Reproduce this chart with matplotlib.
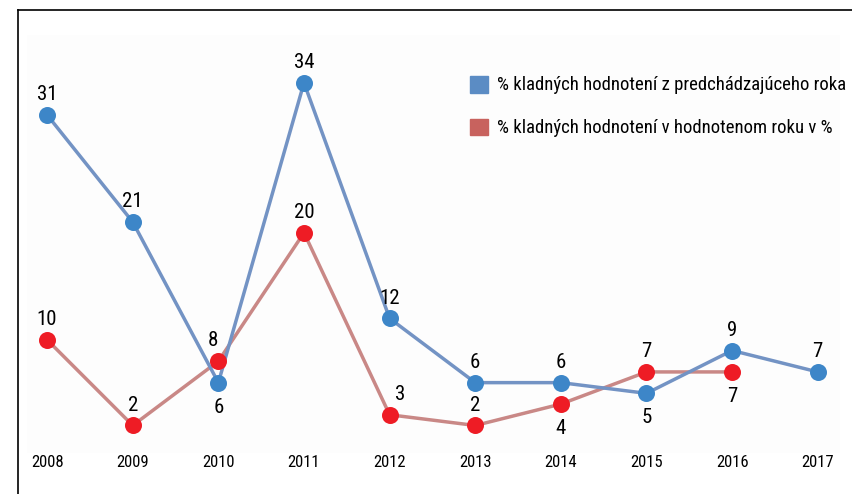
import matplotlib.pyplot as plt
from matplotlib.patches import Rectangle

# data
years = [2008, 2009, 2010, 2011, 2012, 2013, 2014, 2015, 2016, 2017]
prev_year = [31, 21, 6, 34, 12, 6, 6, 5, 9, 7]
rated_year = [10, 2, 8, 20, 3, 2, 4, 7, 7]

# label placement: +1 above, -1 below
prev_pos = [1, 1, -1, 1, 1, 1, 1, -1, 1, 1]
rated_pos = [1, 1, 1, 1, 1, 1, -1, 1, -1]

legend_labels = ["% kladných hodnotení z predchádzajúceho roka",
                 "% kladných hodnotení v hodnotenom roku v %"]

plt.rcParams['font.family'] = ['Roboto Condensed', 'DejaVu Sans']

fig = plt.figure(figsize=(8.52, 4.94), dpi=100)
ax = fig.add_axes([18 / 852, 0, 834 / 852, 484 / 494])

blue_line, blue_dot = "#7393c4", "#3d86c8"
red_line, red_dot = "#c98886", "#ee1c25"

# very light plot-area background
ax.axhspan(-0.6, 38.5, xmin=9 / 834, xmax=822 / 834, color="#fdfdfd", zorder=0, lw=0)

ax.plot(years[:len(rated_year)], rated_year, color=red_line, lw=2.5, zorder=2)
ax.plot(years, prev_year, color=blue_line, lw=2.5, zorder=2)
ax.scatter(years[:len(rated_year)], rated_year, s=150, color=red_dot, zorder=3, lw=0)
ax.scatter(years, prev_year, s=150, color=blue_dot, zorder=4, lw=0)


def offset(p):
    return 1.9 if p > 0 else -2.3


for x, v, p in zip(years, prev_year, prev_pos):
    ax.text(x, v + offset(p), str(v), ha='center', va='center', fontsize=15, zorder=6)
for x, v, p in zip(years, rated_year, rated_pos):
    dx = 0.12 if x == 2012 else 0
    dx = -0.06 if x == 2010 else dx
    ax.text(x + dx, v + offset(p), str(v), ha='center', va='center', fontsize=15, zorder=6)

for x in years:
    ax.text(x, -1.45, str(x), ha='center', va='center', fontsize=12)

ax.set_xlim(2007.66, 2017.4)
ax.set_ylim(-4.4, 40.8)
ax.set_xticks([])
ax.set_yticks([])
for s in ['right', 'bottom']:
    ax.spines[s].set_visible(False)
ax.spines['left'].set_linewidth(1.2)
ax.spines['top'].set_linewidth(1.2)

# legend drawn by hand in axes fraction
for i, (lab, c) in enumerate(zip(legend_labels, ["#5b8cc4", "#c8625e"])):
    y = 0.845 - i * 0.088
    ax.add_patch(Rectangle((452 / 834, y - 0.016), 18 / 834, 0.034,
                           transform=ax.transAxes, color=c, clip_on=False))
    ax.text(479 / 834, y, lab, transform=ax.transAxes, va='center',
            ha='left', fontsize=13.5)

fig.savefig("out.png", dpi=100)
